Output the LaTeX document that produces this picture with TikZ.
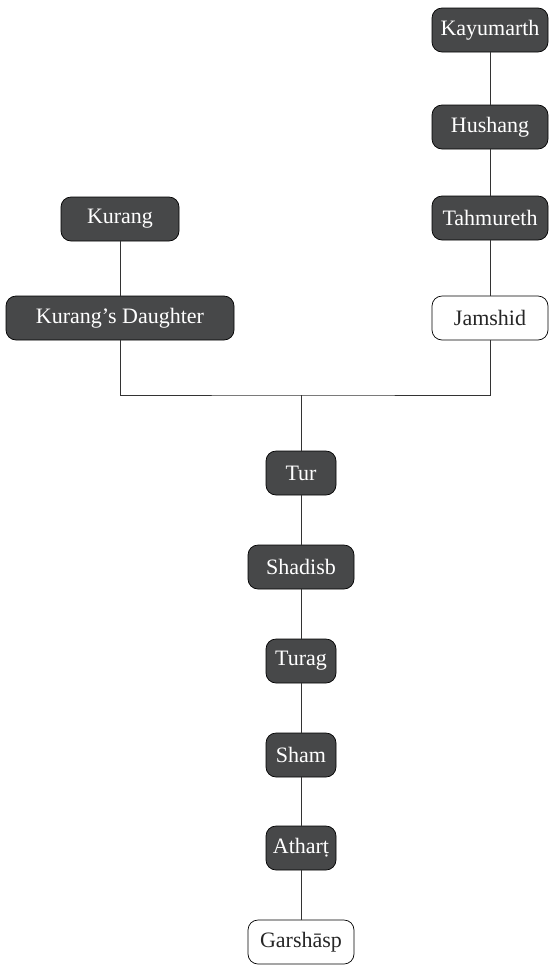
\documentclass[tikz,border=0pt]{standalone}
\usepackage{fontspec}
\setmainfont{Liberation Serif}
\begin{document}
\begin{tikzpicture}[x=1pt,y=-1pt,
  person/.style={draw=black, line width=0.7pt, rounded corners=10pt, fill=nodegray,
    text=white, minimum height=44pt, inner sep=0pt, font=\fontsize{22}{26}\selectfont},
  living/.style={person, fill=white, text=black!85},
  link/.style={draw=black!80, line width=0.9pt}]
\definecolor{nodegray}{HTML}{474849}
\useasboundingbox (0,0) rectangle (549,975);
% paternal line
\node[person, minimum width=116pt] (kay) at (490,30) {Kayumarth};
\node[person, minimum width=116pt] (hus) at (490,127) {Hushang};
\node[person, minimum width=116pt] (tah) at (490,218) {Tahmureth};
\node[living, minimum width=116pt] (jam) at (490,318) {Jamshid};
% maternal line
\node[person, minimum width=118pt] (kur) at (120,219) {Kurang};
\node[person, minimum width=228pt] (kud) at (120,318) {Kurang’s Daughter};
% descendants
\coordinate (bus) at (301,395);
\node[person, minimum width=70pt] (tur) at (301,473) {Tur};
\node[person, minimum width=106pt] (sha) at (301,567) {Shadisb};
\node[person, minimum width=70pt] (tug) at (301,661) {Turag};
\node[person, minimum width=70pt] (sham) at (301,755) {Sham};
\node[person, minimum width=70pt] (ath) at (301,848) {Athar\d{t}};
\node[living, minimum width=106pt] (gar) at (301,942) {Garshāsp};
% connectors
\draw[link] (kay) -- (hus);
\draw[link] (hus) -- (tah);
\draw[link] (tah) -- (jam);
\draw[link] (kur) -- (kud);
\draw[link] (kud.south) |- (bus) -| (jam.south);
\draw[link] (bus) -- (tur.north);
\draw[link] (tur) -- (sha);
\draw[link] (sha) -- (tug);
\draw[link] (tug) -- (sham);
\draw[link] (sham) -- (ath);
\draw[link] (ath) -- (gar);
\end{tikzpicture}
\end{document}
